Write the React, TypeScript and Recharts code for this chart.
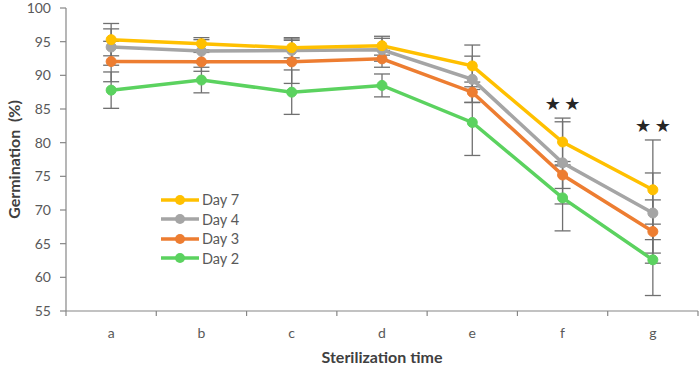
import React from 'react';
import { LineChart, Line, XAxis, YAxis, ErrorBar, Legend, LabelList } from 'recharts';

const categories = ['a', 'b', 'c', 'd', 'e', 'f', 'g'];
const day7 = [95.3, 94.7, 94.1, 94.4, 91.4, 80.1, 73.0];
const day4 = [94.2, 93.6, 93.7, 93.8, 89.4, 77.0, 69.55];
const day3 = [92.05, 92.0, 92.0, 92.45, 87.5, 75.2, 66.8];
const day2 = [87.8, 89.3, 87.5, 88.5, 83.0, 71.8, 62.6];
const err7 = [2.4, 0.9, 1.5, 1.4, 3.1, 3.55, 7.4];
const err4 = [2.7, 1.7, 1.7, 1.7, 3.45, 6.1, 5.95];
const err3 = [3.0, 1.4, 3.2, 1.25, 1.5, 2.0, 4.7];
const err2 = [2.7, 1.9, 3.3, 1.7, 4.9, 4.9, 5.3];
const significant = [false, false, false, false, false, true, true];
const yTicks = [55, 60, 65, 70, 75, 80, 85, 90, 95, 100];

// top of the day 7 error bar is where the stars hang from
const data = categories.map((c, i) => ({
  idx: i,
  cat: c,
  day7: day7[i], day4: day4[i], day3: day3[i], day2: day2[i],
  e7: err7[i], e4: err4[i], e3: err3[i], e2: err2[i],
  star: significant[i] ? day7[i] + err7[i] : null,
}));

// category labels sit on integers, tick marks on the half steps between
const xTicks = [...categories.flatMap((_, i) => [i - 0.5, i]), categories.length - 0.5];

const series = [
  { key: 'day7', name: 'Day 7', color: '#FFC000' },
  { key: 'day4', name: 'Day 4', color: '#A5A5A5' },
  { key: 'day3', name: 'Day 3', color: '#ED7D31' },
  { key: 'day2', name: 'Day 2', color: '#5BD25F' },
];
const errKey: Record<string, string> = { day7: 'e7', day4: 'e4', day3: 'e3', day2: 'e2' };

const FONT = 'Lato, "Open Sans", sans-serif';
const AXIS = '#868686';
const TEXT = '#595959';

function XTick(props: any) {
  const { x, y, payload } = props;
  const v = payload.value as number;
  if (!Number.isInteger(v)) {
    return <line x1={x} x2={x} y1={y - 5} y2={y} stroke={AXIS} strokeWidth={1.2} />;
  }
  return (
    <text x={x} y={y + 22} textAnchor="middle" fill={TEXT} fontSize={14} fontFamily={FONT}>
      {categories[v]}
    </text>
  );
}

function Stars(props: any) {
  const { x, y, value } = props;
  if (value == null) return null;
  return (
    <text x={x} y={y - 8} textAnchor="middle" fill="#262626" fontSize={18} fontFamily="DejaVu Sans">
      {'★\u2009★'}
    </text>
  );
}

function LegendBox() {
  return (
    <div style={{ fontFamily: FONT, fontSize: 14.5, color: TEXT }}>
      {series.map((s) => (
        <div key={s.key} style={{ display: 'flex', alignItems: 'center', height: 19.5 }}>
          <svg width={38} height={14}>
            <line x1={0} x2={38} y1={7} y2={7} stroke={s.color} strokeWidth={3.5} />
            <circle cx={19} cy={7} r={5} fill={s.color} />
          </svg>
          <span style={{ marginLeft: 3 }}>{s.name}</span>
        </div>
      ))}
    </div>
  );
}

export default function App() {
  const drawOrder = [...series].reverse();
  return (
    <div style={{ position: 'absolute', left: 0, top: 0, width: 700, height: 372, background: '#fff' }}>
      <LineChart width={700} height={372} data={data} margin={{ top: 8, right: 2, left: 0, bottom: 0 }}>
        <XAxis
          dataKey="idx"
          type="number"
          domain={[-0.5, categories.length - 0.5]}
          ticks={xTicks}
          interval={0}
          tick={<XTick />}
          tickLine={false}
          tickSize={5}
          tickMargin={0}
          height={61}
          axisLine={{ stroke: AXIS, strokeWidth: 1.2 }}
          label={{
            value: 'Sterilization time', position: 'insideBottom', offset: 9,
            style: { fontFamily: FONT, fontSize: 16, fontWeight: 700, fill: '#404040' },
          }}
        />
        <YAxis
          domain={[55, 100]}
          ticks={yTicks}
          interval={0}
          width={66}
          allowDataOverflow
          tickSize={6}
          tickMargin={9}
          tick={{ fill: TEXT, fontSize: 14, fontFamily: FONT }}
          tickLine={{ stroke: AXIS, strokeWidth: 1.2 }}
          axisLine={{ stroke: AXIS, strokeWidth: 1.2 }}
          label={{
            value: 'Germination\u00A0\u00A0(%)', angle: -90, position: 'insideLeft', offset: 14,
            style: { fontFamily: FONT, fontSize: 16, fontWeight: 700, fill: '#404040', textAnchor: 'middle' },
          }}
        />
        {/* error bars first so every line sits on top of them */}
        {drawOrder.map((s) => (
          <Line key={'err-' + s.key} dataKey={s.key} stroke="none" dot={false} activeDot={false}
            legendType="none" isAnimationActive={false}>
            <ErrorBar dataKey={errKey[s.key]} direction="y" width={8} stroke="#707070" strokeWidth={1.3} />
          </Line>
        ))}
        {drawOrder.map((s) => (
          <Line key={s.key} dataKey={s.key} name={s.name} stroke={s.color} strokeWidth={3.5}
            dot={{ r: 5, fill: s.color, stroke: s.color, strokeWidth: 1 }} activeDot={false}
            isAnimationActive={false} />
        ))}
        <Line dataKey="star" stroke="none" dot={false} activeDot={false} legendType="none"
          isAnimationActive={false} connectNulls={false}>
          <LabelList dataKey="star" content={<Stars />} />
        </Line>
        <Legend
          layout="vertical"
          align="center"
          verticalAlign="middle"
          content={<LegendBox />}
          wrapperStyle={{ position: 'absolute', left: 161, top: 190, width: 100 }}
        />
      </LineChart>
    </div>
  );
}
